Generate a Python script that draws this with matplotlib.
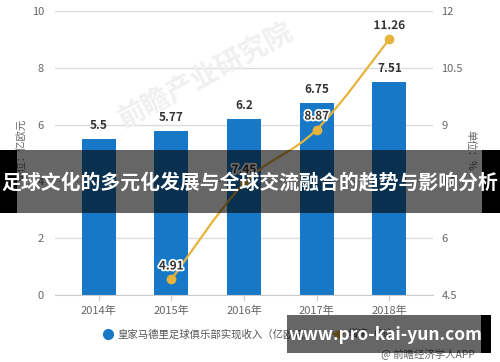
import matplotlib
matplotlib.use("Agg")
import matplotlib.pyplot as plt
import matplotlib.patheffects as pe
from matplotlib.path import Path
from matplotlib.patches import PathPatch, Rectangle
from matplotlib.lines import Line2D
import numpy as np

plt.rcParams['font.family'] = ['Noto Sans CJK SC', 'DejaVu Sans']

years = ["2014年", "2015年", "2016年", "2017年", "2018年"]
revenue = [5.5, 5.77, 6.2, 6.75, 7.51]
growth_years_idx = [1, 2, 3, 4]
growth = [4.91, 7.45, 8.87, 11.26]
left_ticks = [0, 2, 4, 6, 8, 10]
right_ticks = [4.5, 6, 7.5, 9, 10.5, 12]

title = "足球文化的多元化发展与全球交流融合的趋势与影响分析"
bar_color = "#1778C7"
line_color = "#E6B43C"
grid_color = "#DCDCDC"
tick_color = "#666666"

W, H = 500, 362
fig = plt.figure(figsize=(W / 100, H / 100), dpi=100)
ax = fig.add_axes([55 / W, (H - 295) / H, 378 / W, 284 / H])
x = np.arange(len(years))
bars = ax.bar(x, revenue, width=0.47, color=bar_color, zorder=2)
ax.set_xlim(-0.6, 4.6)
ax.set_ylim(0, 10)
ax.set_yticks(left_ticks)
ax.set_xticks(x)
ax.set_xticklabels(years)
ax.grid(axis='y', color=grid_color, linewidth=1, zorder=0)
for s in ['top', 'right', 'left']:
    ax.spines[s].set_visible(False)
ax.spines['bottom'].set_color('#CCCCCC')
ax.tick_params(axis='y', length=0, labelsize=8, colors=tick_color, pad=8)
ax.tick_params(axis='x', length=4, color='#CCCCCC', labelsize=8, colors=tick_color, pad=4)
for xi, v in zip(x, revenue):
    ax.annotate(f"{v:g}", (xi, v), xytext=(0, 5), textcoords='offset points',
                ha='center', va='bottom', fontsize=8.5, fontweight='bold', color='#333333')

ax2 = ax.twinx()
ax2.set_ylim(4.5, 12)
ax2.set_yticks(right_ticks)
ax2.set_yticklabels([f"{t:g}" for t in right_ticks])
for s in ['top', 'right', 'left', 'bottom']:
    ax2.spines[s].set_visible(False)
ax2.tick_params(axis='y', length=0, labelsize=8, colors=tick_color, pad=6)

# smooth curve through points (Catmull-Rom to Bezier)
gx = np.array(growth_years_idx, dtype=float)
gy = np.array(growth, dtype=float)
verts = [(gx[0], gy[0])]
codes = [Path.MOVETO]
n = len(gx)
t = 0.35
for i in range(n - 1):
    p0 = (gx[i - 1], gy[i - 1]) if i > 0 else (gx[i], gy[i])
    p1 = (gx[i], gy[i])
    p2 = (gx[i + 1], gy[i + 1])
    p3 = (gx[i + 2], gy[i + 2]) if i + 2 < n else (gx[i + 1], gy[i + 1])
    c1 = (p1[0] + (p2[0] - p0[0]) * t / 2, p1[1] + (p2[1] - p0[1]) * t / 2)
    c2 = (p2[0] - (p3[0] - p1[0]) * t / 2, p2[1] - (p3[1] - p1[1]) * t / 2)
    verts += [c1, c2, p2]
    codes += [Path.CURVE4] * 3
ax2.add_patch(PathPatch(Path(verts, codes), facecolor='none', edgecolor=line_color, lw=1.6, zorder=3))
ax2.plot(gx, gy, 'o', color=line_color, markersize=6, zorder=4)
for xi, v in zip(gx, gy):
    ax2.annotate(f"{v:g}", (xi, v), xytext=(0, 5), textcoords='offset points',
                 ha='center', va='bottom', fontsize=8.5, fontweight='bold', color='#333333',
                 path_effects=[pe.withStroke(linewidth=2.5, foreground='white')], zorder=5)

# axis unit labels
fig.text(22 / W, 1 - 150 / H, "单位：亿欧元", rotation=90, ha='center', va='center', fontsize=7.5, color=tick_color)
fig.text(470 / W, 1 - 150 / H, "单位：%", rotation=270, ha='center', va='center', fontsize=7.5, color=tick_color)

# watermark
fig.text(205 / W, 1 - 75 / H, "前瞻产业研究院", rotation=28, ha='center', va='center',
         fontsize=20, color='#F0F0F0', fontweight='bold', zorder=1)

# legend
fig.add_artist(Line2D([108 / W], [1 - 334 / H], marker='o', color=bar_color, markersize=7, transform=fig.transFigure))
fig.text(117 / W, 1 - 334 / H, "皇家马德里足球俱乐部实现收入（亿欧元）", ha='left', va='center', fontsize=7.5, color='#555555')
fig.add_artist(Line2D([333 / W, 343 / W], [1 - 334 / H] * 2, color=line_color, lw=1.5, transform=fig.transFigure))
fig.add_artist(Line2D([338 / W], [1 - 334 / H], marker='o', color=line_color, markersize=5, transform=fig.transFigure))
fig.text(348 / W, 1 - 334 / H, "增速（%）", ha='left', va='center', fontsize=7.5, color='#555555')
fig.text(475 / W, 1 - 354 / H, "@ 前瞻经济学人APP", ha='right', va='center', fontsize=7.5, color='#666666')

# overlay banners
def rect(x0, y0, x1, y1, color, alpha):
    fig.add_artist(Rectangle((x0 / W, 1 - y1 / H), (x1 - x0) / W, (y1 - y0) / H,
                             transform=fig.transFigure, facecolor=color, alpha=alpha,
                             edgecolor='none', zorder=10))

rect(0, 150, 17, 213, 'black', 1.0)
rect(17, 150, 482, 213, 'black', 0.6)
rect(482, 150, 500, 213, 'black', 1.0)
fig.text(250 / W, 1 - 182 / H, title, ha='center', va='center', fontsize=14.3, fontweight='bold',
         color='white', zorder=11)

rect(287, 315, 481, 353, 'black', 0.6)
rect(481, 315, 491, 353, 'black', 1.0)
fig.text(385 / W, 1 - 335 / H, "www.pro-kai-yun.com", ha='center', va='center', fontsize=12.5,
         fontweight='bold', color='white', zorder=11)

fig.savefig("out.png", dpi=100)
